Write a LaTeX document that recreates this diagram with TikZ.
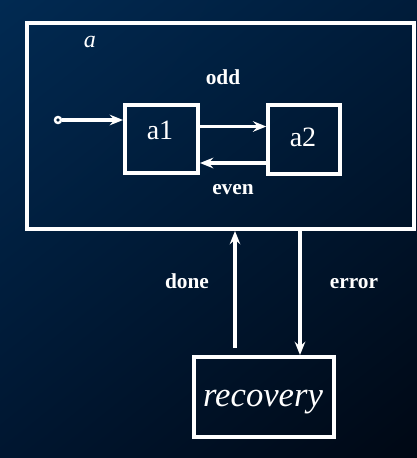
\documentclass[tikz,border=0pt]{standalone}
\usepackage{fontspec}
\setmainfont{Liberation Serif}[BoldFont=Liberation Serif Bold,ItalicFont=Liberation Serif Italic]
\usetikzlibrary{arrows.meta,calc,shadings}
\definecolor{bgTL}{RGB}{1,42,82}
\definecolor{bgTR}{RGB}{0,28,58}
\definecolor{bgBL}{RGB}{0,22,48}
\definecolor{bgBR}{RGB}{0,8,20}
\tikzset{
  stbox/.style={draw=white,line width=3pt,inner sep=0pt},
  conn/.style={draw=white,line width=2.6pt,-{Stealth[length=10pt,width=8pt,inset=3.5pt]}},
  lbl/.style={text=white,font=\fontsize{16}{18}\selectfont\bfseries,inner sep=0pt,anchor=base},
  stname/.style={text=white,font=\fontsize{21}{24}\selectfont,inner sep=0pt,anchor=base},
}
\begin{document}
\begin{tikzpicture}[x=0.75pt,y=-0.75pt]
\shade[upper left=bgTL,upper right=bgTR,lower left=bgBL,lower right=bgBR] (0,0) rectangle (417,458);
\useasboundingbox (0,0) rectangle (417,458);
% boxes
\node[stbox,minimum width=387*0.75pt,minimum height=206.5*0.75pt] (A) at (220.5,125.75) {};
\node[stbox,minimum width=73*0.75pt,minimum height=68*0.75pt] (a1) at (161.5,139) {};
\node[stbox,minimum width=71.5*0.75pt,minimum height=69*0.75pt] (a2) at (304,139.5) {};
\node[stbox,minimum width=140*0.75pt,minimum height=80*0.75pt] (rec) at (264,397) {};
% texts
\node[text=white,font=\fontsize{18}{20}\selectfont\itshape,inner sep=0pt,anchor=base] (Aname) at (90,47.5) {a};
\node[stname] (a1t) at (160,139) {a1};
\node[stname] (a2t) at (303,146.5) {a2};
\node[text=white,font=\fontsize{26}{29}\selectfont\itshape,inner sep=0pt,anchor=base] (rect) at (263,406.5) {recovery};
\node[lbl] (odd) at (223,84) {odd};
\node[lbl] (even) at (233,194) {even};
\node[lbl] (done) at (187,288) {done};
\node[lbl] (error) at (354,288) {error};
% initial
\node[circle,draw=white,fill=bgTL!70!black,line width=1.8pt,minimum size=6*0.75pt,inner sep=0pt] (init) at (58,120) {};
\coordinate (p1) at ($(a1.east)+(0,-12.5)$);
\coordinate (p2) at ($(a2.west)+(0,23.5)$);
\coordinate (p3) at ($(rec.north)+(-29,-7)$);
\coordinate (p4) at ($(A.south)+(79.5,0)$);
\draw[conn] (init.east) -- (init.east -| a1.west);
\draw[conn] (p1) -- (p1 -| a2.west);
\draw[conn] (p2) -- (p2 -| a1.east);
\draw[conn] (p3) -- (p3 |- A.south);
\draw[conn] (p4) -- (p4 |- rec.north);
\end{tikzpicture}
\end{document}
